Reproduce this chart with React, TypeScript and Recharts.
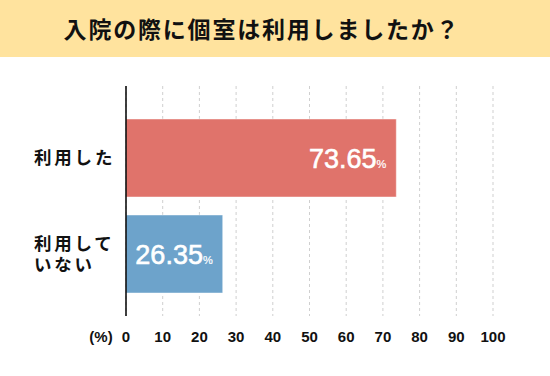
import { Bar, BarChart, Cell, LabelList, CartesianGrid, XAxis, YAxis } from "recharts";

const categories = ["利用した", "利用して\nいない"];
const values = [73.65, 26.35];
const barColors = ["#E0736B", "#6DA3CB"];
const xTicks = [0, 10, 20, 30, 40, 50, 60, 70, 80, 90, 100];

const data = categories.map((name, i) => ({ name, value: values[i] }));

const numFont = "'Liberation Sans', Arial, sans-serif";
const jpFont = "'Noto Sans CJK JP', sans-serif";

function CategoryTick({ y, payload }: any) {
  const lines = String(payload.value).split("\n");
  const lh = 21;
  const y0 = y - ((lines.length - 1) * lh) / 2;
  return (
    <g>
      {lines.map((l, i) => (
        <text
          key={i}
          x={34}
          y={y0 + i * lh + 6}
          fontFamily={jpFont}
          fontWeight={700}
          fontSize={17.5}
          letterSpacing={2.8}
          fill="#111"
        >
          {l}
        </text>
      ))}
    </g>
  );
}

function ValueTick({ x, y, payload }: any) {
  return (
    <g>
      {payload.value === 0 && (
        <text x={101} y={y + 18} textAnchor="middle" fontFamily={numFont} fontWeight={700} fontSize={15} fill="#111">
          (%)
        </text>
      )}
      <text x={x} y={y + 18} textAnchor="middle" fontFamily={numFont} fontWeight={700} fontSize={15} fill="#111">
        {payload.value}
      </text>
    </g>
  );
}

function ValueLabel({ x, y, width, height, value }: any) {
  const right = x + width - 10;
  return (
    <text x={right} y={y + height / 2 + 10} textAnchor="end" fill="#fff" stroke="#fff" strokeWidth={0.6} fontFamily={numFont}>
      <tspan fontSize={27}>{value.toFixed(2)}</tspan>
      <tspan fontSize={11} strokeWidth={0.2}>%</tspan>
    </text>
  );
}

export default function App() {
  return (
    <div style={{ position: "fixed", left: 0, top: 0, width: 550, height: 376, background: "#fff" }}>
      <div
        style={{
          position: "absolute",
          left: 0,
          top: 0,
          width: 550,
          height: 57,
          lineHeight: "57px",
          background: "#FFE39E",
          textAlign: "center",
          fontFamily: jpFont,
          fontWeight: 700,
          fontSize: 23,
          letterSpacing: 1.8,
          color: "#111",
          paddingRight: 26,
          boxSizing: "border-box",
        }}
      >
        入院の際に個室は利用しましたか？
      </div>
      <div style={{ position: "absolute", left: 0, top: 0 }}>
        <BarChart
          width={550}
          height={376}
          data={data}
          layout="vertical"
          margin={{ top: 86, right: 57, bottom: 0, left: 16 }}
        >
          <CartesianGrid horizontal={false} stroke="#cfcfcf" strokeDasharray="3 3" />
          <XAxis
            type="number"
            domain={[0, 100]}
            ticks={xTicks}
            axisLine={false}
            tickLine={false}
            height={60}
            tick={<ValueTick />}
            interval={0}
          />
          <YAxis
            type="category"
            dataKey="name"
            width={110}
            axisLine={{ stroke: "#000", strokeWidth: 1.5 }}
            tickLine={false}
            padding={{ top: 24, bottom: 14 }}
            tick={<CategoryTick />}
          />
          <Bar dataKey="value" barSize={78} isAnimationActive={false} stroke="rgba(255,255,255,0.45)">
            {data.map((d, i) => (
              <Cell key={d.name} fill={barColors[i]} />
            ))}
            <LabelList dataKey="value" content={<ValueLabel />} />
          </Bar>
        </BarChart>
      </div>
    </div>
  );
}
